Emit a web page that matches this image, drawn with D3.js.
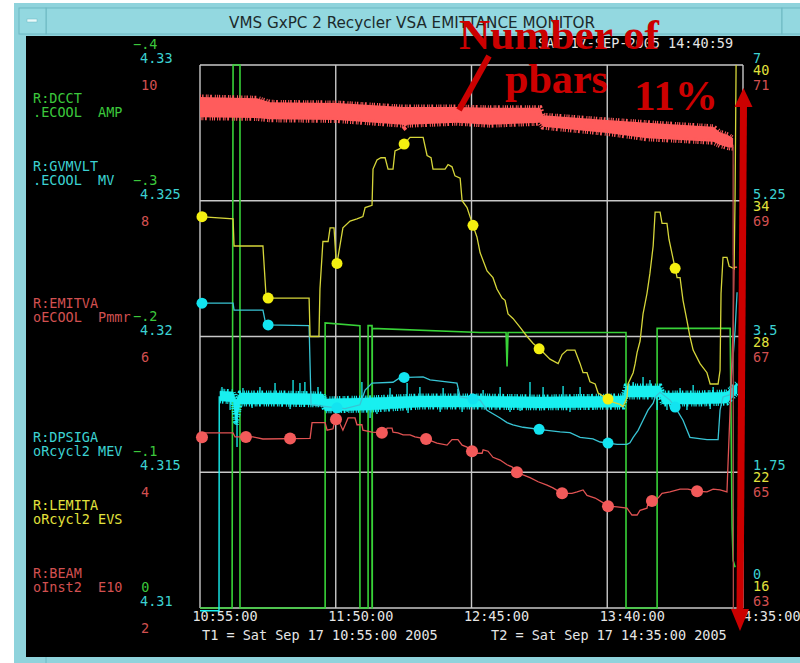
<!DOCTYPE html>
<html lang="en">
<head>
<meta charset="UTF-8">
<title>VMS GxPC 2 Recycler VSA EMITTANCE MONITOR</title>
<script src="https://d3js.org/d3.v7.min.js"></script>
<style>
  body { margin: 0; background: #fff; }
  svg text { font-family: "DejaVu Sans Mono", monospace; font-size: 13.5px; white-space: pre; }
  svg text.note { font-family: "Liberation Serif", "Times New Roman", serif; font-size: 42px; font-weight: bold; }
</style>
</head>
<body>
<script>
// all times are minutes after T1 = 10:55:00
var timeTicks = ["10:55:00", "11:50:00", "12:45:00", "13:40:00", "14:35:00"];

// left axes
var dcctTicks = [-0.4, -0.3, -0.2, -0.1, 0];
var gvTicks = [4.33, 4.325, 4.32, 4.315, 4.31];
var emitTicks = [10, 8, 6, 4, 2];
// right axes
var dpsigTicks = [7, 5.25, 3.5, 1.75, 0];
var lemitTicks = [40, 34, 28, 22, 16];
var beamTicks = [71, 69, 67, 65, 63];

// R:DCCT  [minute, value]
var dcct = [[0,0],[13.0,0],[13.4,-0.4],[16.2,-0.4],[16.2,0],[50.7,0],[50.7,-0.21],[64.8,-0.208],[64.8,0],
  [68.1,0],[68.1,-0.208],[69.7,-0.208],[69.7,0],[69.8,0],[69.8,-0.206],[113.5,-0.203],[124.0,-0.203],
  [124.4,-0.178],[124.8,-0.203],[172.6,-0.203],[172.6,0],[185.2,0],[185.2,-0.206],[214.8,-0.206],
  [215.6,-0.06],[216.0,-0.035],[216.8,-0.03]];

// R:GVMVLT  lead-in, then noisy band [minute, low, high] and its spikes [minute, value]
var gvLead = [[0,4.3099],[7.7,4.3099],[7.8,4.3178]];
var gvBand = [[8.1,4.31763,4.31799],[13.4,4.31759,4.31796],[14.6,4.31674,4.31766],[16.2,4.31751,4.31792],
  [32.4,4.31751,4.31792],[49.8,4.31748,4.31788],[50.7,4.31726,4.31770],[68.9,4.31729,4.31774],
  [89.1,4.31740,4.31781],[113.5,4.31740,4.31781],[137.8,4.31737,4.31777],[171.4,4.31740,4.31781],
  [172.6,4.31777,4.31818],[186.4,4.31777,4.31818],[187.6,4.31751,4.31792],[202.6,4.31751,4.31792],
  [213.5,4.31755,4.31796],[217.6,4.31792,4.31829]];
var gvSpikes = [[8.9,4.31814],[17.4,4.31810],[24.3,4.31814],[30.4,4.31829],[37.7,4.31840],[40.5,4.31829],
  [42.5,4.31832],[47.8,4.31814],[65.6,4.31832],[77.0,4.31810],[83.9,4.31829],[89.1,4.31814],[98.5,4.31810],
  [104.5,4.31807],[114.7,4.31803],[121.6,4.31814],[133.7,4.31832],[139.0,4.31814],[147.1,4.31818],
  [154.0,4.31814],[175.5,4.31832],[179.5,4.31851],[182.3,4.31840],[194.5,4.31810],[199.8,4.31821],
  [207.9,4.31814],
  [12.2,4.31729],[15.0,4.31593],[21.1,4.31737],[36.5,4.31733],[55.9,4.31718],[59.6,4.31722],[68.9,4.31700],
  [71.7,4.31715],[84.3,4.31718],[97.3,4.31722],[106.2,4.31722],[125.6,4.31722],[129.7,4.31726],
  [149.9,4.31722],[159.2,4.31729],[185.2,4.31729],[189.2,4.31729],[197.3,4.31729],[206.7,4.31733]];

// R:EMITVA
var emitva = [[0,4.47],[2.0,4.58],[13.4,4.58],[14.2,4.52],[21.5,4.52],[25.5,4.49],[44.6,4.50],[45.4,4.73],
  [50.7,4.73],[51.5,4.62],[53.9,4.64],[54.7,4.78],[55.9,4.78],[57.9,4.62],[60.0,4.80],[62.8,4.80],[63.6,4.70],
  [65.6,4.70],[66.0,4.62],[69.7,4.59],[75.0,4.58],[75.8,4.65],[77.8,4.65],[78.2,4.59],[80.2,4.58],[82.3,4.55],
  [85.1,4.55],[87.1,4.52],[91.6,4.49],[96.0,4.43],[100.1,4.40],[102.1,4.48],[104.5,4.48],[106.2,4.40],
  [108.2,4.37],[110.2,4.31],[112.2,4.28],[114.3,4.28],[114.7,4.33],[116.7,4.31],[118.7,4.22],[121.6,4.18],
  [124.4,4.11],[126.4,4.08],[128.4,4.00],[130.9,3.96],[133.7,3.92],[137.0,3.86],[140.6,3.81],[143.0,3.77],
  [146.7,3.69],[150.7,3.69],[152.8,3.71],[155.2,3.74],[156.8,3.66],[160.1,3.62],[162.9,3.56],[165.3,3.50],
  [169.0,3.49],[173.0,3.47],[175.0,3.37],[177.1,3.37],[178.3,3.44],[181.1,3.47],[181.5,3.55],[185.6,3.62],
  [187.2,3.69],[190.4,3.71],[194.5,3.75],[197.7,3.75],[201.4,3.72],[205.4,3.71],[207.9,3.75],[210.7,3.74],
  [213.5,3.71],[216.0,6.10],[216.4,7.02],[217.6,7.02]];
var emitMarks = [0.8, 18.6, 36.5, 55.1, 73.7, 91.6, 110.2, 128.4, 146.7, 165.3, 183.1, 201.4];

// R:DPSIGA
var dpsiga = [[0,3.93],[13.4,3.93],[13.8,3.84],[25.5,3.84],[26.7,3.65],[44.2,3.64],[45.0,2.62],[52.7,2.59],
  [58.8,2.57],[64.8,2.62],[66.9,2.81],[69.7,2.90],[78.2,2.91],[81.0,2.97],[90.4,2.98],[93.2,2.94],[104.1,2.90],
  [105.4,2.72],[113.5,2.68],[116.3,2.55],[121.6,2.45],[124.4,2.39],[126.8,2.36],[130.9,2.33],[140.6,2.29],
  [145.9,2.27],[149.9,2.26],[154.0,2.20],[159.2,2.18],[162.1,2.14],[169.0,2.11],[173.0,2.11],[174.2,2.13],
  [175.5,2.20],[177.5,2.29],[179.5,2.42],[181.5,2.55],[183.6,2.64],[184.4,2.72],[186.4,2.78],[190.4,2.68],
  [192.5,2.59],[195.7,2.42],[198.5,2.20],[205.4,2.17],[209.9,2.17],[210.7,2.55],[211.9,2.72],[214.8,2.75],
  [216.8,3.58],[217.6,4.07]];

// R:LEMITA
var lemita = [[0,33.3],[13.4,33.2],[13.8,32.0],[25.5,32.0],[26.7,29.9],[27.6,29.7],[44.2,29.7],[44.6,28.0],
  [48.2,28.0],[48.6,30.1],[49.8,32.2],[51.9,32.2],[52.7,32.8],[54.3,32.8],[55.3,31.1],[57.9,32.8],[60.8,33.1],
  [63.6,33.2],[66.0,33.3],[66.9,33.7],[69.7,33.8],[70.1,35.4],[71.7,35.8],[73.3,35.9],[75.0,35.9],[76.2,35.4],
  [78.2,35.4],[79.0,36.2],[81.0,36.3],[85.1,36.8],[85.9,36.8],[90.4,36.8],[92.0,36.0],[93.6,35.9],[94.4,35.4],
  [99.3,35.4],[100.5,35.6],[102.1,35.5],[103.3,35.1],[105.4,35.0],[106.2,34.0],[108.2,33.7],[109.4,33.3],
  [112.2,32.4],[113.5,31.7],[116.3,30.9],[118.7,30.6],[120.3,30.1],[122.4,29.7],[123.6,29.6],[124.8,29.0],
  [126.8,28.8],[129.7,28.4],[132.5,28.0],[134.9,27.7],[139.0,27.3],[141.8,27.0],[145.1,26.8],[146.7,27.2],
  [148.7,27.4],[151.9,27.4],[154.0,26.8],[155.2,26.4],[156.8,26.4],[158.0,26.0],[160.1,25.9],[161.3,25.5],
  [167.3,25.1],[170.2,25.0],[171.4,24.9],[173.0,25.3],[173.4,25.9],[175.5,26.4],[176.3,26.8],[177.1,27.3],
  [178.3,27.8],[179.5,29.0],[181.1,29.9],[182.3,30.8],[183.6,32.0],[184.4,33.5],[186.4,33.5],[187.2,33.0],
  [189.2,33.0],[190.0,32.3],[193.3,30.6],[194.5,30.6],[195.7,29.6],[197.3,28.7],[198.5,28.0],[199.8,27.4],
  [202.6,26.8],[205.4,26.4],[206.7,25.9],[209.9,25.9],[210.7,26.5],[211.1,29.9],[211.9,31.5],[213.5,31.5],
  [214.4,31.1],[216.4,31.0],[216.8,34.3],[217.2,40.0]];
var traceMarks = [0.8, 27.6, 55.5, 82.7, 110.6, 137.4, 165.3, 192.5];

// R:BEAM  band [minute, low, high], then the drop at the end
var beamBand = [[0,70.23,70.53],[23.1,70.22,70.51],[28.4,70.20,70.45],[55.5,70.19,70.44],[82.3,70.12,70.38],
  [83.0,70.09,70.38],[84.0,70.12,70.38],[104.1,70.15,70.38],[117.5,70.12,70.37],[137.8,70.15,70.37],
  [139.0,70.09,70.26],[164.9,70.00,70.19],[181.1,69.92,70.15],[207.9,69.87,70.09],[210.7,69.82,70.01],
  [213.9,69.79,69.97],[216.0,69.78,69.92]];
var beamTail = [[216.0,69.80],[216.1,62.95]];

var C = {
  green: "#3cc83c", greenTrace: "#38d238",
  cyan: "#3cd2d2", cyanNoise: "#18f0f0", cyanTrace: "#38c4d4", cyanDot: "#12e4f0",
  red: "#d25050", redTrace: "#e05252", redDot: "#f25a5a", beam: "#ff5c5c",
  yellow: "#e2e23c", yellowTrace: "#d6d63a", yellowDot: "#f4f010",
  white: "#e6e6e6", grid: "#c8c8c8", note: "#cc0000", frame: "#8fd3dc"
};
// irregular dash pattern for the noisy fringes
var noiseDash = "1 1.1 1.4 2.3 1 0.7 1 1.6 1.8 2.9 1 1.3 1 0.9 1.2 2";

var svg = d3.select("body").append("svg").attr("width", 800).attr("height", 663);

// window frame
svg.append("rect").attr("width", 800).attr("height", 663).attr("fill", "#fff");
svg.append("rect").attr("x", 14).attr("y", 3).attr("width", 786).attr("height", 660).attr("fill", C.frame);
svg.append("rect").attr("x", 46).attr("y", 8).attr("width", 736).attr("height", 26)
  .attr("fill", "#93d8e0").attr("stroke", "#6cb8c2");
svg.append("rect").attr("x", 19).attr("y", 8).attr("width", 27).attr("height", 26)
  .attr("fill", "#93d8e0").attr("stroke", "#6cb8c2");
svg.append("rect").attr("x", 27).attr("y", 19).attr("width", 10).attr("height", 3).attr("fill", "#eafafa").attr("stroke", "#6cb8c2").attr("stroke-width", 0.5);
svg.append("rect").attr("x", 782).attr("y", 8).attr("width", 20).attr("height", 26)
  .attr("fill", "#93d8e0").attr("stroke", "#6cb8c2");
svg.append("text").attr("x", 412).attr("y", 28).attr("text-anchor", "middle")
  .attr("textLength", 366).attr("lengthAdjust", "spacingAndGlyphs")
  .style("font-family", "'Liberation Sans Narrow', 'DejaVu Sans Condensed', sans-serif")
  .style("font-size", "16.5px").attr("fill", "#1c2a2c")
  .text("VMS GxPC 2 Recycler VSA EMITTANCE MONITOR");
svg.append("rect").attr("x", 26).attr("y", 36).attr("width", 774).attr("height", 621).attr("fill", "#000");
svg.append("line").attr("x1", 46).attr("x2", 46).attr("y1", 657).attr("y2", 663).attr("stroke", "#6cb8c2");

// scales
var T1 = new Date(2005, 8, 17, 10, 55, 0), T2 = new Date(2005, 8, 17, 14, 35, 0);
function at(m) { return new Date(T1.getTime() + m * 60000); }
var parseTick = d3.timeParse("%Y-%m-%d %H:%M:%S");
var x = d3.scaleTime().domain([T1, T2]).range([200, 743]);
var yDcct = d3.scaleLinear().domain([0, -0.4]).range([608, 65]);
var yGv = d3.scaleLinear().domain([4.31, 4.33]).range([608, 65]);
var yEmit = d3.scaleLinear().domain([2, 10]).range([608, 65]);
var yDpsig = d3.scaleLinear().domain([0, 7]).range([608, 65]);
var yLemit = d3.scaleLinear().domain([16, 40]).range([608, 65]);
var yBeam = d3.scaleLinear().domain([63, 71]).range([608, 65]);

var tickDates = timeTicks.map(function(s) { return parseTick("2005-09-17 " + s); });

// grid and frame
var grid = svg.append("g").attr("stroke", C.grid).attr("stroke-width", 1.4);
tickDates.forEach(function(d) {
  grid.append("line").attr("x1", x(d)).attr("x2", x(d)).attr("y1", yEmit(10)).attr("y2", yEmit(2));
});
emitTicks.forEach(function(v) {
  grid.append("line").attr("x1", x(T1)).attr("x2", x(T2)).attr("y1", yEmit(v)).attr("y2", yEmit(v));
});

// time labels
svg.append("g").selectAll("text").data(tickDates).join("text")
  .attr("x", function(d) { return x(d) + 25; }).attr("y", 621)
  .attr("text-anchor", "middle").attr("fill", C.white)
  .text(d3.timeFormat("%H:%M:%S"));
svg.append("text").attr("x", 202).attr("y", 640).attr("fill", C.white).text("T1 = Sat Sep 17 10:55:00 2005");
svg.append("text").attr("x", 491).attr("y", 640).attr("fill", C.white).text("T2 = Sat Sep 17 14:35:00 2005");
svg.append("text").attr("x", 538).attr("y", 48).attr("fill", C.white).text("SAT 17-SEP-2005 14:40:59");

// axis labels
function axisLabels(ticks, scale, xPos, dy, color, fmt, lastShift) {
  svg.append("g").selectAll("text").data(ticks).join("text")
    .attr("x", xPos)
    .attr("y", function(d, i) { return scale(d) + dy + (i === ticks.length - 1 ? lastShift : 0); })
    .attr("fill", color).text(fmt);
}
axisLabels(dcctTicks, yDcct, 133, -16, C.green, function(d) {
  return d === 0 ? " 0" : d3.format(".1f")(d).replace("0.", ".");
}, 0);
axisLabels(gvTicks, yGv, 140, -2, C.cyan, String, 0);
axisLabels(emitTicks, yEmit, 141, 25, C.red, String, 0);
axisLabels(dpsigTicks, yDpsig, 753, -2, C.cyan, String, -27);
axisLabels(lemitTicks, yLemit, 753, 10, C.yellow, String, -27);
axisLabels(beamTicks, yBeam, 753, 25, C.red, String, -27);

// device names
var names = [
  ["R:DCCT", ".ECOOL  AMP", 103, C.green],
  ["R:GVMVLT", ".ECOOL  MV", 171, C.cyan],
  ["R:EMITVA", "oECOOL  Pmmr", 308, C.red],
  ["R:DPSIGA", "oRcycl2 MEV", 442, C.cyan],
  ["R:LEMITA", "oRcycl2 EVS", 510, C.yellow],
  ["R:BEAM", "oInst2  E10", 578, C.red]
];
names.forEach(function(n) {
  svg.append("text").attr("x", 33).attr("y", n[2]).attr("fill", n[3]).text(n[0]);
  svg.append("text").attr("x", 33).attr("y", n[2] + 14).attr("fill", n[3]).text(n[1]);
});

// helpers
function lineFor(scale) {
  return d3.line().x(function(d) { return x(at(d[0])); }).y(function(d) { return scale(d[1]); });
}
function edgeFor(scale, col) {
  return d3.line().x(function(d) { return x(at(d[0])); }).y(function(d) { return scale(d[col]); });
}
function valueAt(rows, t, col) {
  var i = d3.bisector(function(r) { return r[0]; }).left(rows, t);
  if (i <= 0) return rows[0][col];
  if (i >= rows.length) return rows[rows.length - 1][col];
  var a = rows[i - 1], b = rows[i], f = (t - a[0]) / (b[0] - a[0] || 1);
  return a[col] + f * (b[col] - a[col]);
}
var plot = svg.append("g");

// DCCT
plot.append("path").datum(dcct).attr("d", lineFor(yDcct))
  .attr("fill", "none").attr("stroke", C.greenTrace).attr("stroke-width", 1.6);

// GVMVLT noisy band
plot.append("path").datum(gvLead).attr("d", lineFor(yGv))
  .attr("fill", "none").attr("stroke", C.cyanNoise).attr("stroke-width", 1.4);
var gvArea = d3.area().x(function(d) { return x(at(d[0])); })
  .y0(function(d) { return yGv(d[1]); }).y1(function(d) { return yGv(d[2]); });
plot.append("path").datum(gvBand).attr("d", gvArea).attr("fill", C.cyanNoise)
  .attr("stroke", C.cyanNoise).attr("stroke-width", 0.5);
[1, 2].forEach(function(col, k) {
  plot.append("path").datum(gvBand).attr("d", edgeFor(yGv, col))
    .attr("fill", "none").attr("stroke", C.cyanNoise).attr("stroke-width", 5)
    .attr("stroke-dasharray", noiseDash).attr("stroke-dashoffset", k * 3.3);
});
plot.append("g").selectAll("line").data(gvSpikes).join("line")
  .attr("x1", function(d) { return x(at(d[0])); }).attr("x2", function(d) { return x(at(d[0])); })
  .attr("y1", function(d) { return yGv((valueAt(gvBand, d[0], 1) + valueAt(gvBand, d[0], 2)) / 2); })
  .attr("y2", function(d) { return yGv(d[1]); })
  .attr("stroke", C.cyanNoise).attr("stroke-width", 1.3);

// DPSIGA, EMITVA, LEMITA traces
plot.append("path").datum(dpsiga).attr("d", lineFor(yDpsig))
  .attr("fill", "none").attr("stroke", C.cyanTrace).attr("stroke-width", 1.3);
plot.append("path").datum(emitva).attr("d", lineFor(yEmit))
  .attr("fill", "none").attr("stroke", C.redTrace).attr("stroke-width", 1.3);
plot.append("path").datum(lemita).attr("d", lineFor(yLemit))
  .attr("fill", "none").attr("stroke", C.yellowTrace).attr("stroke-width", 1.3);

// BEAM band
var beamArea = d3.area().x(function(d) { return x(at(d[0])); })
  .y0(function(d) { return yBeam(d[1]); }).y1(function(d) { return yBeam(d[2]); });
plot.append("path").datum(beamBand).attr("d", beamArea).attr("fill", C.beam);
plot.append("path").datum(beamBand).attr("d", edgeFor(yBeam, 2))
  .attr("fill", "none").attr("stroke", C.beam).attr("stroke-width", 5)
  .attr("stroke-dasharray", noiseDash);
plot.append("path").datum(beamBand).attr("d", edgeFor(yBeam, 1))
  .attr("fill", "none").attr("stroke", C.beam).attr("stroke-width", 6)
  .attr("stroke-dasharray", noiseDash).attr("stroke-dashoffset", 5.1);
plot.append("path").datum(beamTail).attr("d", lineFor(yBeam))
  .attr("fill", "none").attr("stroke", "#b04848").attr("stroke-width", 1.3);

// markers
function marks(times, rows, scale, color, r) {
  plot.append("g").selectAll("circle").data(times).join("circle")
    .attr("cx", function(t) { return x(at(t)); })
    .attr("cy", function(t) { return scale(valueAt(rows, t, 1)); })
    .attr("r", r).attr("fill", color);
}
marks(emitMarks, emitva, yEmit, C.redDot, 6);
marks(traceMarks, dpsiga, yDpsig, C.cyanDot, 5.5);
marks(traceMarks, lemita, yLemit, C.yellowDot, 5.5);

// annotations
var note = svg.append("g").attr("fill", C.note);
note.append("text").attr("class", "note").attr("x", 459).attr("y", 49)
  .attr("textLength", 200).attr("lengthAdjust", "spacingAndGlyphs").text("Number of");
note.append("text").attr("class", "note").attr("x", 505).attr("y", 93)
  .attr("textLength", 103).attr("lengthAdjust", "spacingAndGlyphs").text("pbars");
note.append("text").attr("class", "note").attr("x", 634).attr("y", 110)
  .attr("textLength", 84).attr("lengthAdjust", "spacingAndGlyphs").text("11%");
svg.append("line").attr("x1", 489).attr("y1", 56).attr("x2", 459).attr("y2", 110)
  .attr("stroke", C.note).attr("stroke-width", 6);
svg.append("line").attr("x1", 743.5).attr("y1", 104).attr("x2", 740).attr("y2", 612)
  .attr("stroke", C.note).attr("stroke-width", 7);
svg.append("path").attr("d", "M743.5,88 L752.5,107 L734.5,107 Z").attr("fill", C.note);
svg.append("path").attr("d", "M740,631 L731,609 L749,609 Z").attr("fill", C.note);
</script>
</body>
</html>
